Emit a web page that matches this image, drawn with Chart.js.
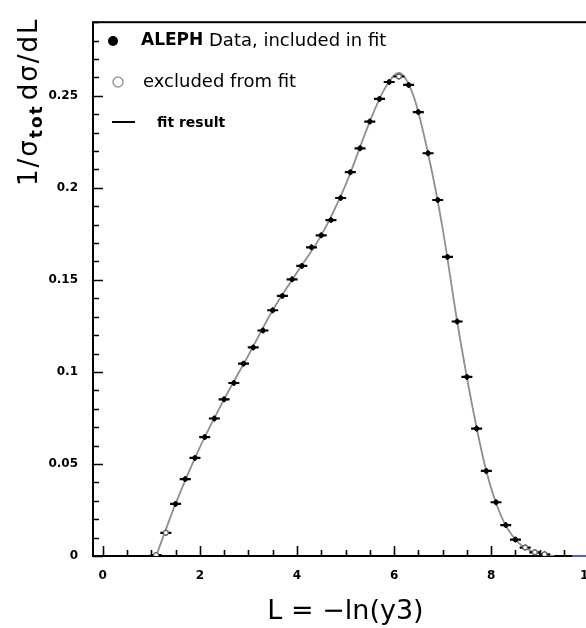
<!DOCTYPE html>
<html>
<head>
<meta charset="UTF-8">
<title>ALEPH L = -ln(y3)</title>
<script src="https://cdn.jsdelivr.net/npm/chart.js@4/dist/chart.umd.min.js"></script>
<style>
  html, body { margin: 0; padding: 0; overflow: hidden; background: #fff; }
  canvas { display: block; }
</style>
</head>
<body>
<canvas id="myChart" width="610" height="628"></canvas>
<script>
  // bin centres in L = -ln(y3) and the measured 1/sigma dsigma/dL
  const binL = [1.1, 1.3, 1.5, 1.7, 1.9, 2.1, 2.3, 2.5, 2.7, 2.9, 3.1, 3.3, 3.5, 3.7, 3.9, 4.1, 4.3, 4.5, 4.7, 4.9,
                5.1, 5.3, 5.5, 5.7, 5.9, 6.1, 6.3, 6.5, 6.7, 6.9, 7.1, 7.3, 7.5, 7.7, 7.9, 8.1, 8.3, 8.5, 8.7, 8.9, 9.1];
  const dataY = [0.0005, 0.0126, 0.0283, 0.0418, 0.0533, 0.0646, 0.0747, 0.0851, 0.0940, 0.1045, 0.1133,
                 0.1225, 0.1335, 0.1413, 0.1503, 0.1576, 0.1677, 0.1742, 0.1825, 0.1945, 0.2085, 0.2215,
                 0.2360, 0.2483, 0.2575, 0.2605, 0.2559, 0.2412, 0.2188, 0.1934, 0.1625, 0.1274, 0.0973,
                 0.0692, 0.0462, 0.0292, 0.0168, 0.0089, 0.0046, 0.0020, 0.0009];
  // bins left out of the fit (open circles)
  const excludedL = [1.1, 1.3, 6.1, 8.7, 8.9, 9.1];

  // fit curve
  const fitL = [1.1, 1.5, 2.0, 2.5, 3.0, 3.5, 4.0, 4.5, 5.0, 5.5, 5.8, 6.1, 6.4, 6.7, 7.0, 7.3, 7.6, 7.9, 8.2, 8.5, 8.8, 9.1, 9.3];
  const fitY = [0, 0.0283, 0.059, 0.0851, 0.109, 0.1335, 0.154, 0.1742, 0.2015, 0.236, 0.2535, 0.2625, 0.250,
                0.2188, 0.178, 0.1274, 0.083, 0.0462, 0.022, 0.0089, 0.003, 0.0008, 0];

  // little blue stub lying on the axis at the right edge
  const stubL = [9.67, 10.2];
  const stubY = [0, 0];

  const xLabels = [0, 2, 4, 6, 8, 10];
  const yLabels = [0, 0.05, 0.1, 0.15, 0.2, 0.25];

  const near = (v, list) => list.some(t => Math.abs(v - t) < 1e-6);
  const pts = (xs, ys) => xs.map((x, i) => ({ x: x, y: ys[i] }));

  const incl = [], excl = [];
  binL.forEach((l, i) => (near(l, excludedL) ? excl : incl).push({ x: l, y: dataY[i] }));
  const all = pts(binL, dataY);

  const frame = {
    id: 'frame',
    beforeDatasetsDraw(chart) {
      const { ctx, chartArea: a, scales: { x, y } } = chart;
      ctx.save();
      ctx.strokeStyle = '#000';
      ctx.lineWidth = 2;
      ctx.strokeRect(a.left, a.top, a.right - a.left, a.bottom - a.top);

      // ticks pointing into the plot
      ctx.lineWidth = 1.6;
      ctx.beginPath();
      y.ticks.forEach(t => {
        const py = Math.round(y.getPixelForValue(t.value)) + 0.5;
        const len = near(t.value, yLabels) ? 10 : 6;
        ctx.moveTo(a.left, py); ctx.lineTo(a.left + len, py);
      });
      x.ticks.forEach(t => {
        if (Math.abs(t.value * 2 - Math.round(t.value * 2)) > 1e-6) return;
        const px = Math.round(x.getPixelForValue(t.value)) + 0.5;
        const len = near(t.value, xLabels) ? 10 : 6;
        ctx.moveTo(px, a.bottom); ctx.lineTo(px, a.bottom - len);
      });
      ctx.stroke();
      ctx.restore();
    },
    afterDraw(chart) {
      const { ctx } = chart;
      ctx.save();
      // legend inside the frame
      ctx.fillStyle = '#000';
      ctx.beginPath(); ctx.arc(113, 41, 5, 0, Math.PI * 2); ctx.fill();
      ctx.strokeStyle = '#999'; ctx.lineWidth = 1.5;
      ctx.beginPath(); ctx.arc(118, 82, 5, 0, Math.PI * 2); ctx.stroke();
      ctx.strokeStyle = '#000'; ctx.lineWidth = 2;
      ctx.beginPath(); ctx.moveTo(112, 122); ctx.lineTo(135, 122); ctx.stroke();

      ctx.textBaseline = 'middle';
      ctx.textAlign = 'left';
      ctx.font = 'bold 17px "DejaVu Sans"';
      ctx.fillText('ALEPH', 141, 41);
      const w = ctx.measureText('ALEPH').width;
      ctx.font = '18px "DejaVu Sans"';
      ctx.fillText(' Data, included in fit', 141 + w, 41);
      ctx.fillText('excluded from fit', 143, 82);
      ctx.font = 'bold 14px "DejaVu Sans"';
      ctx.fillText('fit result', 157, 123);

      // y title 1/sigma_tot dsigma/dL
      ctx.translate(30, 186);
      ctx.rotate(-Math.PI / 2);
      ctx.letterSpacing = '2px';
      ctx.font = '26px "DejaVu Sans"';
      ctx.fillText('1/σ', 0, 0);
      let cx = ctx.measureText('1/σ').width;
      ctx.font = 'bold 17px "DejaVu Sans"';
      ctx.fillText('tot', cx, 8);
      cx += ctx.measureText('tot').width + 4;
      ctx.font = '26px "DejaVu Sans"';
      ctx.fillText('dσ/dL', cx, 0);
      ctx.restore();
    }
  };

  new Chart('myChart', {
    type: 'scatter',
    data: {
      datasets: [
        { data: incl, pointStyle: 'circle', pointRadius: 2.2, backgroundColor: '#000', borderColor: '#000', borderWidth: 1, order: 0 },
        { data: excl, pointStyle: 'circle', pointRadius: 2.4, backgroundColor: '#fff', borderColor: '#666', borderWidth: 1.2, order: 0 },
        { data: all, pointStyle: 'line', pointRadius: 5.5, borderColor: '#000', borderWidth: 2.2, order: 1 },
        { data: all, pointStyle: 'line', rotation: 90, pointRadius: 3, borderColor: '#000', borderWidth: 1.5, order: 1 },
        { data: pts(fitL, fitY), type: 'line', showLine: true, cubicInterpolationMode: 'monotone', borderColor: '#8f8f8f',
          borderWidth: 1.8, pointRadius: 0, fill: false, order: 3 },
        { data: pts(stubL, stubY), type: 'line', showLine: true, clip: false, borderColor: '#5a5ae6', borderWidth: 2,
          pointRadius: 0, order: -1 }
      ]
    },
    options: {
      responsive: false,
      animation: false,
      events: [],
      layout: { padding: { top: 9, right: 12, left: 0, bottom: 0 } },
      plugins: { legend: { display: false }, tooltip: { enabled: false } },
      scales: {
        x: {
          type: 'linear', min: -0.2, max: 10.2,
          afterFit(s) { s.height = 72; },
          grid: { display: false, drawTicks: false },
          border: { display: false },
          ticks: {
            stepSize: 0.5, includeBounds: false, autoSkip: false, maxRotation: 0, padding: 13, color: '#000',
            font: { family: 'DejaVu Sans', size: 12, weight: 'bold' },
            callback: v => near(v, xLabels) ? String(v) : ''
          },
          title: {
            display: true, text: 'L = −ln(y3)', color: '#000',
            font: { family: 'DejaVu Sans', size: 27 }, padding: { top: 0, bottom: 0 }
          }
        },
        y: {
          min: 0, max: 0.29,
          afterFit(s) { s.width = 93; },
          grid: { display: false, drawTicks: false },
          border: { display: false },
          ticks: {
            stepSize: 0.01, includeBounds: false, autoSkip: false, padding: 15, color: '#000',
            font: { family: 'DejaVu Sans', size: 12, weight: 'bold' },
            callback: v => near(v, yLabels) ? String(+v.toFixed(2)) : ''
          }
        }
      }
    },
    plugins: [frame]
  });
</script>
</body>
</html>
